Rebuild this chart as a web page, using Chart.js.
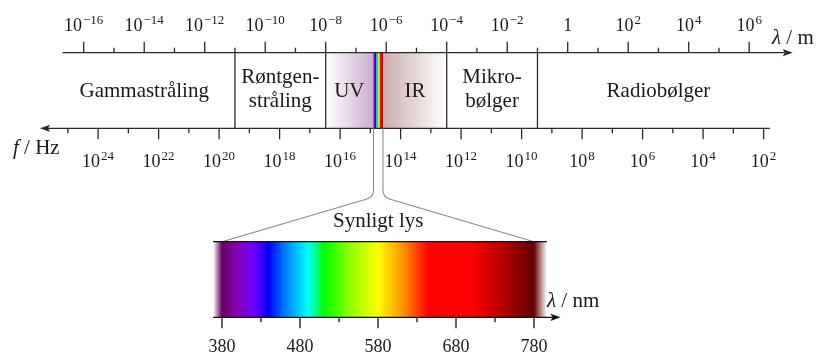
<!DOCTYPE html>
<html><head><meta charset="utf-8">
<script src="https://cdn.jsdelivr.net/npm/chart.js@4/dist/chart.umd.min.js"></script>
<style>html,body{margin:0;padding:0;background:#fff;}#wrap{width:818px;height:354px;position:relative;}</style>
</head><body><div id="wrap"><canvas id="c"></canvas></div>
<script>
// ---------- data ----------
const lambdaMajorExp = [-16,-14,-12,-10,-8,-6,-4,-2,0,2,4,6];      // log10(λ / m)
const lambdaMinorExp = [-15,-13,-11,-9,-7,-5,-3,-1,1,3,5];
const freqMajorExp   = [24,22,20,18,16,14,12,10,8,6,4,2];          // log10(f / Hz)
const freqMinorExp   = [25,23,21,19,17,15,13,11,9,7,5,3];
const bandBoundaryExp = [-11,-8,-4,-1];                             // separators, log10(λ / m)
const bandNames = [['Gammastråling'],['Røntgen-','stråling'],['UV'],['IR'],['Mikro-','bølger'],['Radiobølger']];
const bandLabelExp = [-14,-9.5,-7.22,-5.05,-2.5,3];
const uvStartExp = -8;
const irEndExp = -4;
const visibleRangeNm = [380,780];
const visibleMajorNm = [380,480,580,680,780];
const visibleMinorNm = [430,530,630,730];
const spectrumNm    = [380,390,400,410,420,430,440,460,490,500,510,545,580,612,645,700,740,780];
const spectrumColor = ['#610061','#79008d','#8300b5','#7e00db','#6a00ff','#3d00ff','#0000ff','#007bff','#00ffff','#00ff92','#00ff00','#92ff00','#ffff00','#ff9200','#ff0000','#ff0000','#b50000','#610000'];

// ---------- layout (positions / styles) ----------
const L = {
  topAxisY: 52.7, botAxisY: 128.3,
  topAxisFrom: -16.7, topAxisTo: 7.44,         // λ exponents
  freqAxisFrom: 25.92, freqAxisTo: 1.79,        // f exponents (arrow at from)
  majorTick: 11, minorTick: 5,
  topLabelY: 31, freqLabelY: 167, expRaise: 7,
  bandLine1Y: 83, bandLine2Y: 107, bandSingleY: 97,
  kneeY: 197, boxTopY: 241.7, visAxisY: 317.3,
  visFrom: 368.6, visTo: 796.6, visArrow: 814,
  visLabelY: 352, synY: 227,
  tickFont: '18px "Liberation Serif"', expFont: '13px "Liberation Serif"',
  bandFont: '21px "Liberation Serif"',
  ink: '#1a1a1a', axisInk: '#2a2a2a', funnel: '#8a8a8a'
};

function hexA(h,a){const n=parseInt(h.slice(1),16);return `rgba(${n>>16},${(n>>8)&255},${n&255},${a})`;}

function drawPow(ctx, base, exp, cx, by){
  ctx.font = L.tickFont; const wb = ctx.measureText(base).width;
  let we = 0, gap = 0;
  if (exp !== null){ ctx.font = L.expFont; we = ctx.measureText(exp).width; gap = 1; }
  const x0 = cx - (wb+gap+we)/2;
  ctx.textAlign='left'; ctx.textBaseline='alphabetic'; ctx.fillStyle=L.ink;
  ctx.font = L.tickFont; ctx.fillText(base, x0, by);
  if (exp !== null){ ctx.font = L.expFont; ctx.fillText(exp, x0+wb+gap, by-L.expRaise); }
}
function expText(e){ return e<0 ? '\u2212'+(-e) : String(e); }
function arrow(ctx, tipX, y, dir){ // dir +1 right, -1 left
  ctx.beginPath(); ctx.moveTo(tipX, y); ctx.lineTo(tipX-dir*10, y-3.6); ctx.lineTo(tipX-dir*8, y); ctx.lineTo(tipX-dir*10, y+3.6); ctx.closePath(); ctx.fill();
}

const emPlugin = {
  id:'emspectrum',
  afterDraw(chart){
    const ctx = chart.ctx;
    const sx=chart.scales.x, sf=chart.scales.xf, sn=chart.scales.xnm, sy=chart.scales.y;
    const X=v=>sx.getPixelForValue(v), XF=v=>sf.getPixelForValue(v), XN=v=>sn.getPixelForValue(v), Y=v=>sy.getPixelForValue(v);
    const lg = nm => Math.log10(nm*1e-9);
    const yT=Y(L.topAxisY), yB=Y(L.botAxisY);
    const xV0=X(lg(visibleRangeNm[0])), xV1=X(lg(visibleRangeNm[1]));
    ctx.save();

    // UV band shading
    let g = ctx.createLinearGradient(X(uvStartExp),0,xV0,0);
    g.addColorStop(0, hexA(spectrumColor[0],0)); g.addColorStop(1, hexA(spectrumColor[0],0.32));
    ctx.fillStyle=g; ctx.fillRect(X(uvStartExp), yT, xV0-X(uvStartExp), yB-yT);
    // IR band shading
    g = ctx.createLinearGradient(xV1,0,X(irEndExp),0);
    g.addColorStop(0, hexA(spectrumColor[spectrumColor.length-1],0.32)); g.addColorStop(1, hexA(spectrumColor[spectrumColor.length-1],0));
    ctx.fillStyle=g; ctx.fillRect(xV1, yT, X(irEndExp)-xV1, yB-yT);
    // mini visible spectrum on the log scale
    g = ctx.createLinearGradient(xV0,0,xV1,0);
    spectrumNm.forEach((nm,i)=>g.addColorStop((X(lg(nm))-xV0)/(xV1-xV0), spectrumColor[i]));
    ctx.fillStyle=g; ctx.fillRect(xV0, yT, xV1-xV0, yB-yT);

    // band separators
    ctx.strokeStyle=L.axisInk; ctx.lineWidth=1.3;
    bandBoundaryExp.forEach(e=>{ctx.beginPath(); ctx.moveTo(X(e),yT); ctx.lineTo(X(e),yB); ctx.stroke();});

    // top λ axis
    ctx.fillStyle=L.axisInk;
    ctx.beginPath(); ctx.moveTo(X(L.topAxisFrom),yT); ctx.lineTo(X(L.topAxisTo)-8,yT); ctx.stroke();
    arrow(ctx, X(L.topAxisTo), yT, 1);
    lambdaMajorExp.forEach(e=>{ctx.beginPath(); ctx.moveTo(X(e),yT); ctx.lineTo(X(e),yT-L.majorTick); ctx.stroke();});
    lambdaMinorExp.forEach(e=>{ctx.beginPath(); ctx.moveTo(X(e),yT); ctx.lineTo(X(e),yT-L.minorTick); ctx.stroke();});
    lambdaMajorExp.forEach(e=>{ if(e===0) drawPow(ctx,'1',null,X(e),Y(L.topLabelY)); else drawPow(ctx,'10',expText(e),X(e),Y(L.topLabelY)); });

    // bottom frequency axis
    ctx.fillStyle=L.axisInk;
    ctx.beginPath(); ctx.moveTo(XF(L.freqAxisFrom)+8,yB); ctx.lineTo(XF(L.freqAxisTo),yB); ctx.stroke();
    arrow(ctx, XF(L.freqAxisFrom), yB, -1);
    freqMajorExp.forEach(e=>{ctx.beginPath(); ctx.moveTo(XF(e),yB); ctx.lineTo(XF(e),yB+L.majorTick); ctx.stroke();});
    freqMinorExp.forEach(e=>{ctx.beginPath(); ctx.moveTo(XF(e),yB); ctx.lineTo(XF(e),yB+L.minorTick); ctx.stroke();});
    freqMajorExp.forEach(e=>drawPow(ctx,'10',expText(e),XF(e),Y(L.freqLabelY)));

    // band names
    ctx.fillStyle=L.ink; ctx.font=L.bandFont; ctx.textAlign='center'; ctx.textBaseline='alphabetic';
    bandNames.forEach((lines,i)=>{
      const cx=X(bandLabelExp[i]);
      if(lines.length===1) ctx.fillText(lines[0],cx,Y(L.bandSingleY));
      else { ctx.fillText(lines[0],cx,Y(L.bandLine1Y)); ctx.fillText(lines[1],cx,Y(L.bandLine2Y)); }
    });

    // axis titles
    ctx.textAlign='left';
    const title=(sym,rest,x,y)=>{ctx.font='italic '+L.bandFont; ctx.fillText(sym,x,y); const w=ctx.measureText(sym).width; ctx.font=L.bandFont; ctx.fillText(rest,x+w,y);};
    title('\u03bb',' / m',772,Y(44));
    title('f',' / Hz',13,Y(154));

    // funnel
    const yBox=Y(L.boxTopY), yK=Y(L.kneeY);
    ctx.strokeStyle=L.funnel; ctx.lineWidth=1.1;
    ctx.beginPath(); ctx.moveTo(xV0,yB); ctx.arcTo(xV0,yK,XN(visibleRangeNm[0]),yBox,9); ctx.lineTo(XN(visibleRangeNm[0]),yBox); ctx.stroke();
    ctx.beginPath(); ctx.moveTo(xV1,yB); ctx.arcTo(xV1,yK,XN(visibleRangeNm[1]),yBox,9); ctx.lineTo(XN(visibleRangeNm[1]),yBox); ctx.stroke();
    ctx.fillStyle=L.ink; ctx.font=L.bandFont; ctx.textAlign='center';
    ctx.fillText('Synligt lys',(xV0+xV1)/2,Y(L.synY));

    // large visible spectrum
    const yAx=Y(L.visAxisY), a=XN(L.visFrom), b=XN(L.visTo);
    g=ctx.createLinearGradient(a,0,b,0);
    g.addColorStop(0,hexA(spectrumColor[0],0));
    spectrumNm.forEach((nm,i)=>g.addColorStop((XN(nm)-a)/(b-a), spectrumColor[i]));
    g.addColorStop(1,hexA(spectrumColor[spectrumColor.length-1],0));
    ctx.fillStyle=g; ctx.fillRect(a,yBox,b-a,yAx-yBox);
    ctx.strokeStyle='#111'; ctx.lineWidth=1.3;
    ctx.beginPath(); ctx.moveTo(a,yBox); ctx.lineTo(b,yBox); ctx.stroke();
    ctx.beginPath(); ctx.moveTo(a,yAx); ctx.lineTo(XN(L.visArrow)-8,yAx); ctx.stroke();
    ctx.fillStyle='#111'; arrow(ctx, XN(L.visArrow), yAx, 1);
    visibleMajorNm.forEach(nm=>{ctx.beginPath(); ctx.moveTo(XN(nm),yAx); ctx.lineTo(XN(nm),yAx+L.majorTick); ctx.stroke();});
    visibleMinorNm.forEach(nm=>{ctx.beginPath(); ctx.moveTo(XN(nm),yAx); ctx.lineTo(XN(nm),yAx+L.minorTick); ctx.stroke();});
    ctx.fillStyle=L.ink; ctx.font=L.tickFont; ctx.textAlign='center';
    visibleMajorNm.forEach(nm=>ctx.fillText(String(nm),XN(nm),Y(L.visLabelY)));
    ctx.textAlign='left';
    title('\u03bb',' / nm',547,Y(307));
    ctx.restore();
  }
};

new Chart(document.getElementById('c'), {
  type:'scatter',
  data:{datasets:[]},
  options:{
    responsive:true, maintainAspectRatio:false, animation:false, events:[],
    layout:{padding:0},
    plugins:{legend:{display:false}, tooltip:{enabled:false}},
    scales:{
      x:{type:'linear', axis:'x', min:-18.767, max:8.274, display:false},
      xf:{type:'linear', axis:'x', reverse:true, min:0.2017, max:27.243, display:false},
      xnm:{type:'linear', axis:'x', min:95.38, max:1144.1, display:false},
      y:{type:'linear', axis:'y', reverse:true, min:0, max:354, display:false}
    }
  },
  plugins:[emPlugin]
});
</script></body></html>
